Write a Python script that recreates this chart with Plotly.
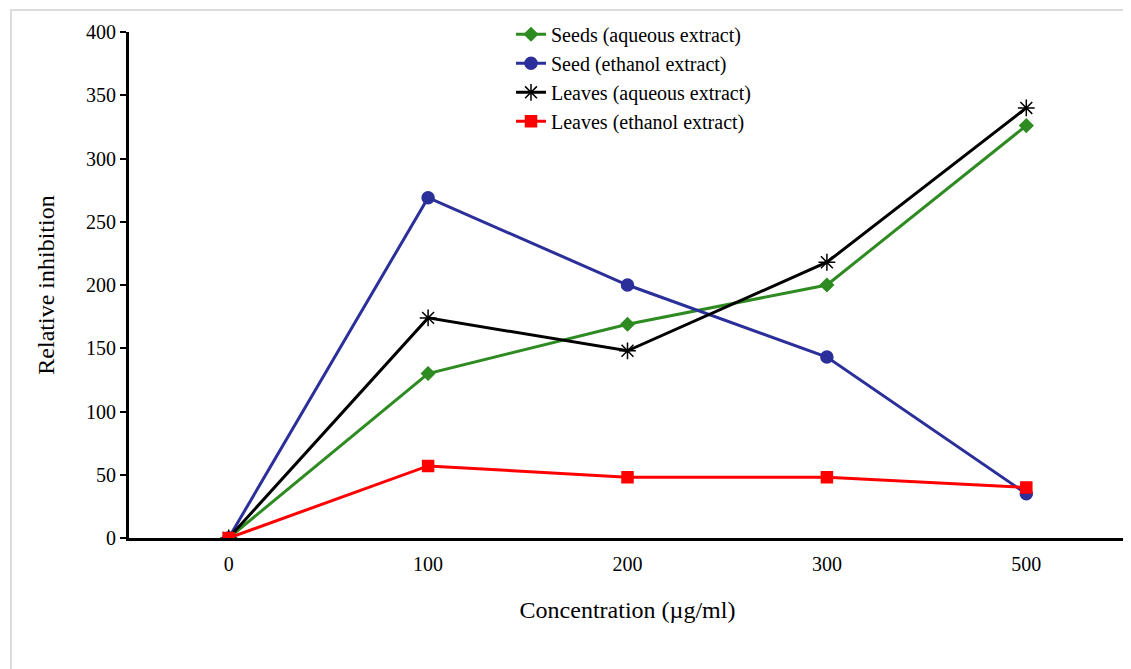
import plotly.graph_objects as go

concentrations = ["0", "100", "200", "300", "500"]
seeds_aqueous = [0, 130, 169, 200, 326]
seed_ethanol = [0, 269, 200, 143, 35]
leaves_aqueous = [0, 174, 148, 218, 340]
leaves_ethanol = [0, 57, 48, 48, 40]

y_ticks = [0, 50, 100, 150, 200, 250, 300, 350, 400]

FONT = "Liberation Serif"
PAPER_W = 1010  # width of plotting paper (px), from left margin to right edge

fig = go.Figure()
series = [
    ("Seeds (aqueous extract)", seeds_aqueous, "#2e8b22", "diamond", 10),
    ("Seed (ethanol extract)", seed_ethanol, "#2b2f9a", "circle", 12),
    ("Leaves (aqueous extract)", leaves_aqueous, "#000000", "asterisk-open", 14),
    ("Leaves (ethanol extract)", leaves_ethanol, "#ff0000", "square", 11),
]
for name, vals, color, sym, size in series:
    fig.add_trace(go.Scatter(
        x=concentrations, y=vals, name=name, mode="lines+markers",
        line=dict(color=color, width=3),
        marker=dict(symbol=sym, size=size, color=color,
                    line=dict(color=color, width=1.5)),
    ))

fig.update_layout(
    width=1131, height=669,
    margin=dict(l=121, r=0, t=24, b=139),
    paper_bgcolor="white", plot_bgcolor="white",
    font=dict(family=FONT, size=20, color="black"),
    showlegend=True,
    legend=dict(x=(503 - 121) / PAPER_W, y=1.034, xanchor="left", yanchor="top",
                font=dict(family=FONT, size=20), bgcolor="rgba(0,0,0,0)",
                tracegroupgap=0, itemwidth=30),
    xaxis=dict(type="category", range=[-0.5, 4.5], domain=[0, 997 / PAPER_W],
               showgrid=False,
               showline=True, linecolor="black", linewidth=3,
               ticks="outside", ticklen=6, tickcolor="rgba(0,0,0,0)",
               zeroline=False,
               tickfont=dict(family=FONT, size=20),
               title=dict(text="Concentration (µg/ml)", standoff=28,
                          font=dict(family=FONT, size=24))),
    yaxis=dict(range=[0, 400], tickvals=y_ticks, showgrid=False,
               showline=True, linecolor="black", linewidth=3,
               ticks="outside", ticklen=6, tickwidth=2, tickcolor="black",
               zeroline=False, tickfont=dict(family=FONT, size=20),
               title=dict(text="Relative inhibition", standoff=25,
                          font=dict(family=FONT, size=24))),
)

fig.add_shape(type="rect", xref="paper", yref="paper",
              x0=(3 - 121) / PAPER_W, x1=1.05, y0=-0.4, y1=(530 - 2) / 506,
              line=dict(color="#dcdcdc", width=2), layer="below")

fig.write_html("out.html")
